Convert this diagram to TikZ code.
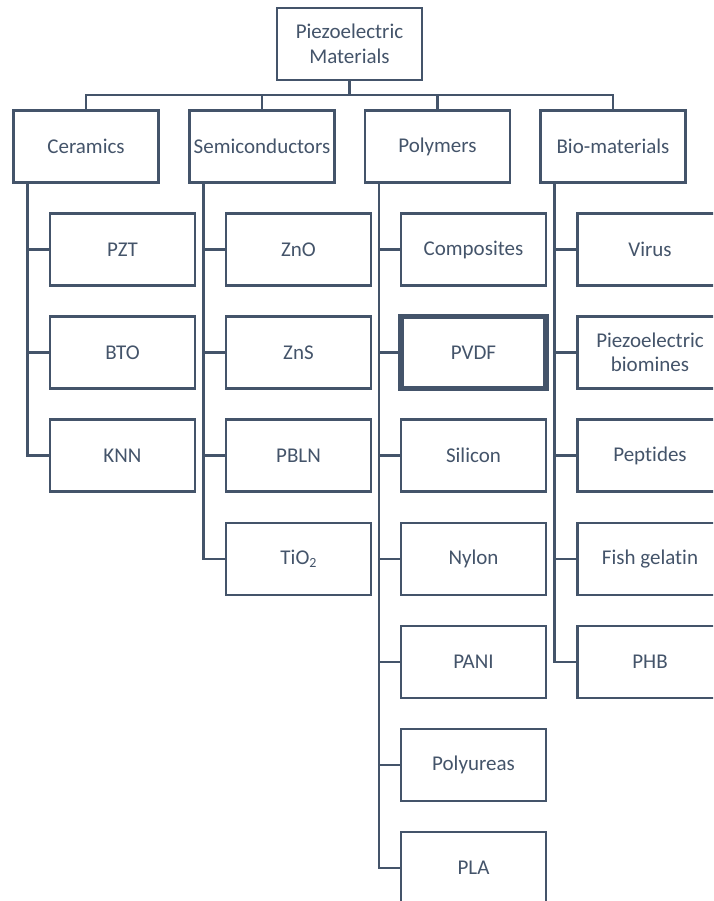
\documentclass[tikz,border=0pt]{standalone}
\usepackage{fontspec}
\setmainfont{Carlito}[Ligatures=NoCommon]
\definecolor{slate}{HTML}{44546A}
\tikzset{
  box/.style={draw=slate, line width=2.4pt, minimum width=145pt, minimum height=72pt, inner sep=1pt, align=center, text=slate, font=\fontsize{21}{24.5}\selectfont},
  thickbox/.style={box, line width=5.5pt},
  link/.style={draw=slate, line width=2.6pt}
}
\begin{document}
\begin{tikzpicture}[x=1pt,y=-1pt]
\clip (0,0) rectangle (713,901);
\fill[white] (0,0) rectangle (713,901);
% top
\node[box] (top) at (349.5,44) {Piezoelectric\\Materials};
% level 1
\node[box] (cer) at (86,146.5) {Ceramics};
\node[box] (sem) at (262,146.5) {Semiconductors};
\node[box] (pol) at (437.5,146.5) {Polymers};
\node[box] (bio) at (613,146.5) {Bio-materials};
% ceramics children
\node[box] (pzt) at (122.5,249.5) {PZT};
\node[box] (bto) at (122.5,352.5) {BTO};
\node[box] (knn) at (122.5,455.5) {KNN};
% semiconductors children
\node[box] (zno) at (298.5,249.5) {ZnO};
\node[box] (zns) at (298.5,352.5) {ZnS};
\node[box] (pbln) at (298.5,455.5) {PBLN};
\node[box] (tio) at (298.5,559) {TiO\raisebox{-0.3ex}{\fontsize{14}{14}\selectfont 2}};
% polymers children
\node[box] (comp) at (473.5,249.5) {Composites};
\node[thickbox] (pvdf) at (473.5,352.5) {PVDF};
\node[box] (sil) at (473.5,455.5) {Silicon};
\node[box] (nyl) at (473.5,559) {Nylon};
\node[box] (pani) at (473.5,662) {PANI};
\node[box] (pur) at (473.5,765) {Polyureas};
\node[box] (pla) at (473.5,868) {PLA};
% bio children
\node[box] (vir) at (650,249.5) {Virus};
\node[box] (pzb) at (650,352.5) {Piezoelectric\\biomines};
\node[box] (pep) at (650,455.5) {Peptides};
\node[box] (fis) at (650,559) {Fish gelatin};
\node[box] (phb) at (650,662) {PHB};
% bus
\coordinate (bus) at (0,95);
\draw[link] (top.south) -- (top.south |- bus);
\draw[link] (cer.north) |- (bio.north |- bus) -- (bio.north);
\draw[link] (sem.north) -- (sem.north |- bus);
\draw[link] (pol.north) -- (pol.north |- bus);
% trunks
\coordinate (tc) at ([xshift=15pt]cer.south west);
\coordinate (ts) at ([xshift=15pt]sem.south west);
\coordinate (tp) at ([xshift=15pt]pol.south west);
\coordinate (tb) at ([xshift=15pt]bio.south west);
\draw[link] (tc) |- (knn.west);
\foreach \c in {pzt,bto} \draw[link] (\c.west) -- (\c.west -| tc);
\draw[link] (ts) |- (tio.west);
\foreach \c in {zno,zns,pbln} \draw[link] (\c.west) -- (\c.west -| ts);
\draw[link] (tp) |- (pla.west);
\foreach \c in {comp,pvdf,sil,nyl,pani,pur} \draw[link] (\c.west) -- (\c.west -| tp);
\draw[link] (tb) |- (phb.west);
\foreach \c in {vir,pzb,pep,fis} \draw[link] (\c.west) -- (\c.west -| tb);
\end{tikzpicture}
\end{document}
